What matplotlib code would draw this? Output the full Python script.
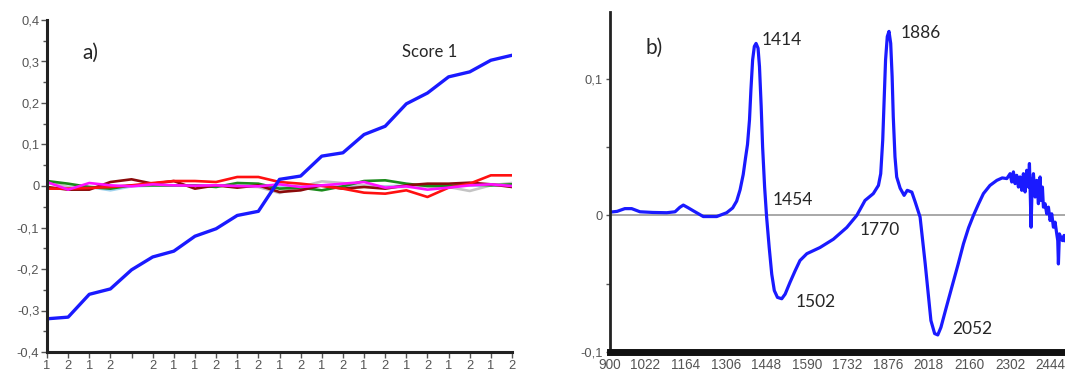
import matplotlib
matplotlib.use("Agg")
import matplotlib.pyplot as plt
from matplotlib.ticker import FixedLocator, FuncFormatter, MultipleLocator

# ---------------- Panel a) data ----------------
sample_labels = ["1", "2", "1", "2", "", "2", "1", "1", "2", "1", "2", "1",
                 "2", "1", "2", "1", "2", "1", "2", "1", "2", "1", "2"]
score1 = [-0.320, -0.316, -0.261, -0.248, -0.202, -0.171, -0.157, -0.121,
          -0.103, -0.071, -0.061, 0.016, 0.024, 0.072, 0.080, 0.124, 0.144,
          0.198, 0.224, 0.263, 0.275, 0.303, 0.315]
score_red = [-0.0064, -0.0064, -0.0048, -0.0024, 0.0016, 0.0072, 0.012, 0.012,
             0.0096, 0.0217, 0.0217, 0.0096, 0.0056, 0.0, -0.0064, -0.0161,
             -0.0185, -0.0104, -0.0265, -0.004, 0.0056, 0.0257, 0.0257]
score_maroon = [-0.0024, -0.0088, -0.0088, 0.0096, 0.0161, 0.0056, 0.012,
                -0.0064, 0.0016, -0.004, 0.0016, -0.0145, -0.0104, 0.0016,
                -0.0064, -0.0024, -0.0064, 0.0016, 0.0056, 0.0056, 0.008,
                0.004, -0.0024]
score_green = [0.012, 0.0056, -0.0024, -0.0064, 0.0016, 0.0016, 0.0016, 0.0016,
               -0.0024, 0.0072, 0.0056, -0.0064, -0.004, -0.0104, -0.0008,
               0.012, 0.0137, 0.0056, 0.0, 0.0, 0.004, 0.0016, 0.004]
score_gray = [0.0096, -0.0024, -0.0024, -0.0024, 0.0016, 0.0016, 0.0016, 0.0016,
              0.0016, -0.0008, -0.0024, -0.0169, -0.0024, 0.0112, 0.0072,
              0.0016, -0.0024, -0.0024, -0.0008, -0.0024, -0.012, 0.0016, 0.0072]
score_lightblue = [0.0072, -0.0024, -0.0024, -0.0104, -0.0008, 0.0008, 0.0008,
                   0.0008, 0.0008, 0.0008, -0.0008, -0.0024, 0.0008, 0.0008,
                   0.0008, 0.0008, -0.0008, 0.0008, 0.0008, -0.0008, 0.0008,
                   0.0008, 0.004]
score_magenta = [0.0096, -0.0088, 0.0072, 0.0016, -0.0008, 0.004, 0.0016,
                 0.0008, 0.0016, 0.0, -0.0008, 0.004, -0.0024, 0.0016, 0.0056,
                 0.0096, -0.004, -0.0008, -0.0088, -0.004, 0.0016, 0.004, 0.0]

# ---------------- Panel b) data ----------------
wavenumber = [900, 925, 952, 976, 1005, 1050, 1099, 1128, 1145, 1157, 1175, 1192,
              1227, 1274, 1309, 1330, 1344, 1356, 1367, 1375, 1382, 1389, 1394,
              1400, 1406, 1412, 1419, 1424, 1430, 1435, 1442, 1449, 1458, 1467,
              1476, 1487, 1502, 1514, 1531, 1549, 1566, 1590, 1636, 1683,
              1730, 1765, 1794, 1823, 1841, 1849, 1856, 1861, 1866, 1872, 1878,
              1884, 1889, 1893, 1899, 1905, 1917, 1931, 1942, 1958, 1970, 1987,
              2005, 2025, 2038, 2049, 2060, 2078, 2098, 2120, 2139, 2157, 2174,
              2192, 2209, 2232, 2256, 2275, 2291,
              2302.5, 2308.3, 2314.2, 2320.0, 2325.8, 2331.7, 2337.5, 2343.4,
              2349.2, 2355.1, 2360.9, 2366.7, 2370.3, 2373.8, 2376.1, 2379.6,
              2384.3, 2390.1, 2396.0, 2401.8, 2407.6, 2411.2, 2415.8, 2419.3,
              2425.2, 2431.0, 2436.9, 2442.7, 2448.5, 2454.4, 2460.2, 2466.1,
              2469.6, 2471.9, 2475.4, 2480.1, 2486.0, 2491.8, 2495.3]
loading = [0.0024, 0.0030, 0.0050, 0.0050, 0.0027, 0.0022, 0.0020, 0.0027,
           0.0060, 0.0076, 0.0055, 0.0034, -0.0008, -0.0008, 0.0020, 0.0055,
           0.0105, 0.0188, 0.0300, 0.0420, 0.0520, 0.0700, 0.0920,
           0.1140, 0.1238, 0.1260, 0.1225, 0.1090, 0.0797, 0.0500, 0.0208,
           -0.0012, -0.0233, -0.0430, -0.0550, -0.0600, -0.0610, -0.0576,
           -0.0490, -0.0405, -0.0330, -0.0280, -0.0235, -0.0174,
           -0.0088, 0.0000, 0.0110, 0.0160, 0.0220, 0.0306, 0.0550, 0.0845,
           0.1140, 0.1310, 0.1348, 0.1260, 0.1017, 0.0723, 0.0430, 0.0282,
           0.0200, 0.0147, 0.0184, 0.0171, 0.0098, -0.0012, -0.0355, -0.0770,
           -0.0865, -0.0875, -0.0820, -0.0680, -0.0527, -0.0360, -0.0208,
           -0.0090, 0.0000, 0.0085, 0.0160, 0.0220, 0.0257, 0.0275, 0.0270,
           0.0306, 0.0245, 0.0319, 0.0233, 0.0294, 0.0208, 0.0282, 0.0184,
           0.0306, 0.0172, 0.0331, 0.0208, 0.0380, 0.0110, -0.0086, 0.0208,
           0.0306, 0.0135, 0.0257, 0.0086, 0.0282, 0.0110, 0.0208, 0.0061,
           0.0086, 0.0012, 0.0061, -0.0037, 0.0012, -0.0086, -0.0049, -0.0135,
           -0.0184, -0.0355, -0.0135, -0.0159, -0.0184, -0.0146, -0.0184]
wn_ticks = [900, 1022, 1164, 1306, 1448, 1590, 1732, 1876, 2018, 2160, 2302, 2444]
peak_labels = ["1414", "1886", "1454", "1770", "1502", "2052"]
peak_label_pos = [(1433, 0.1287), (1919, 0.1336), (1470, 0.011),
                  (1776, -0.011), (1552, -0.0637), (2098, -0.0833)]

plt.rcParams['font.family'] = ['Liberation Sans', 'DejaVu Sans']
TICKC = '#555555'
TEXTC = '#262626'

fig = plt.figure(figsize=(10.65, 3.79), dpi=100)

# ---------------- Panel a ----------------
ax1 = fig.add_axes([47/1065, 27/379, 465/1065, 332/379])
x = list(range(len(sample_labels)))
ax1.plot(x, score_lightblue, color='#9fd3ee', lw=1.9)
ax1.plot(x, score_gray, color='#c4c4c4', lw=1.9)
ax1.plot(x, score_green, color='#1a8a1a', lw=1.9)
ax1.plot(x, score_maroon, color='#8b0a0a', lw=1.9)
ax1.plot(x, score_red, color='#ff1010', lw=1.9)
ax1.plot(x, score_magenta, color='#ff10ff', lw=1.9)
ax1.plot(x, score1, color='#1a1aff', lw=2.4)
ax1.set_xlim(0, len(sample_labels) - 1)
ax1.set_ylim(-0.4, 0.4)
ax1.xaxis.set_major_locator(FixedLocator(x))
ax1.set_xticklabels(sample_labels)
ax1.yaxis.set_major_locator(MultipleLocator(0.1))
ax1.yaxis.set_minor_locator(MultipleLocator(0.05))
ax1.yaxis.set_major_formatter(FuncFormatter(
    lambda v, p: "0" if abs(v) < 1e-9 else f"{v:.1f}".replace('.', ',')))
for s in ['top', 'right']:
    ax1.spines[s].set_visible(False)
for s in ['left', 'bottom']:
    ax1.spines[s].set_linewidth(2.2)
    ax1.spines[s].set_color('#222222')
ax1.tick_params(axis='both', which='major', labelsize=9.3, colors=TICKC,
                length=4, width=1, pad=1.5)
ax1.tick_params(axis='y', which='minor', length=3, width=1, colors=TICKC)
ax1.text(35/465, 0.90, "a)", transform=ax1.transAxes, fontsize=15,
         color=TEXTC, va='center', ha='left', family=['Lato', 'DejaVu Sans'])
ax1.text(355/465, 0.905, "Score 1", transform=ax1.transAxes, fontsize=12,
         color=TEXTC, va='center', ha='left', family=['Lato', 'DejaVu Sans'])

# ---------------- Panel b ----------------
ax2 = fig.add_axes([610/1065, 27/379, 455/1065, 340/379])
ax2.axhline(0, color='#999999', lw=1.2, zorder=1)
ax2.plot(wavenumber, loading, color='#1a1aff', lw=2.3, zorder=2)
ax2.set_xlim(900, 2495)
ax2.set_ylim(-0.1, 0.149)
ax2.xaxis.set_major_locator(FixedLocator(wn_ticks))
ax2.set_xticklabels([str(t) for t in wn_ticks])
ax2.yaxis.set_major_locator(FixedLocator([-0.1, 0.0, 0.1]))
ax2.yaxis.set_minor_locator(FixedLocator([-0.05, 0.05]))
ax2.yaxis.set_major_formatter(FuncFormatter(
    lambda v, p: "0" if abs(v) < 1e-9 else f"{v:.1f}".replace('.', ',')))
for s in ['top', 'right']:
    ax2.spines[s].set_visible(False)
ax2.spines['left'].set_linewidth(2.0)
ax2.spines['left'].set_color('#222222')
ax2.spines['bottom'].set_linewidth(5.0)
ax2.spines['bottom'].set_color('#111111')
ax2.tick_params(axis='x', which='major', labelsize=9.8, colors=TICKC,
                length=0, pad=4)
ax2.tick_params(axis='y', which='major', labelsize=9.3, colors=TICKC,
                length=3, width=1, pad=2)
ax2.tick_params(axis='y', which='minor', length=3, width=1, colors=TICKC)
ax2.text(1023, 0.1225, "b)", fontsize=15, color=TEXTC, va='center', ha='left',
         family=['Lato', 'DejaVu Sans'])
for lab, (px, py) in zip(peak_labels, peak_label_pos):
    ax2.text(px, py, lab, fontsize=12.5, color=TEXTC, va='center', ha='left',
             family=['Lato', 'DejaVu Sans'])

fig.savefig("out.png", dpi=100)
